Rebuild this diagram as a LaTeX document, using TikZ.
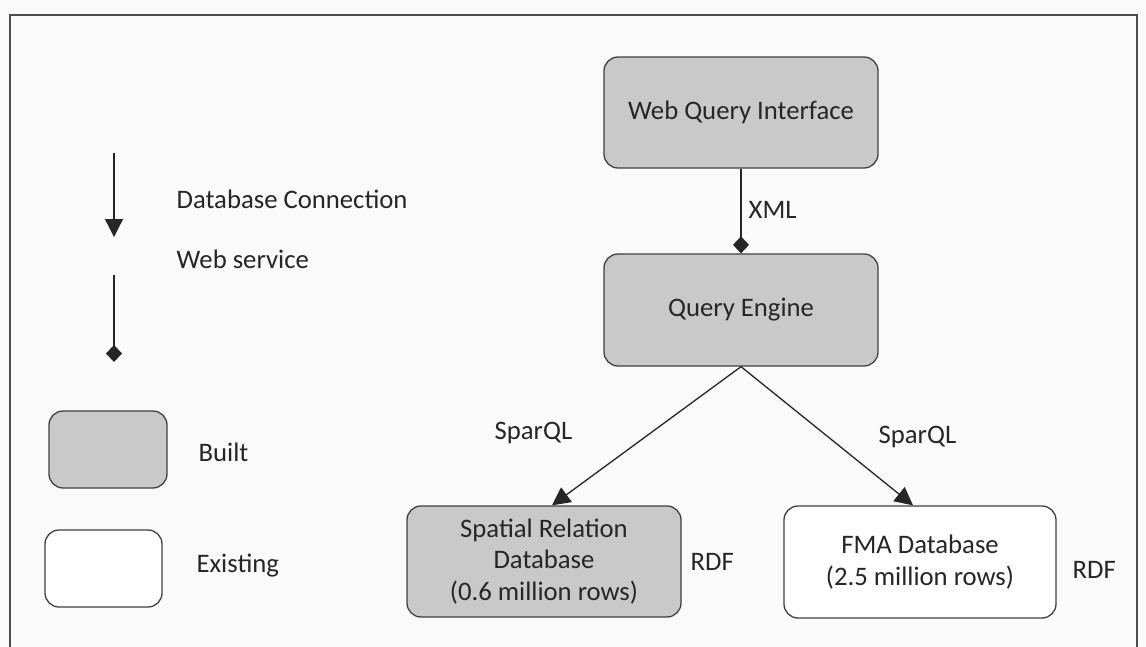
\documentclass[tikz,border=0pt]{standalone}
\usepackage{fontspec}
\setmainfont{Carlito}
\usetikzlibrary{arrows.meta,calc}
\begin{document}
\begin{tikzpicture}[x=1pt,y=-1pt,
  line width=1.3pt,
  every node/.style={font=\fontsize{26.7}{31.5}\selectfont, text=black!85},
  box/.style={draw=black!75, rounded corners=14pt, align=center, inner sep=0pt},
  built/.style={box, fill=black!21},
  existing/.style={box, fill=white},
  lbl/.style={anchor=west, inner sep=0pt},
  conn/.style={draw=black!85, -{Triangle[width=18pt,length=18pt]}},
  ws/.style={draw=black!85, -{Diamond[width=16pt,length=17pt]}}
]
\useasboundingbox (0,0) rectangle (1146,646);
\fill[white!98!black] (0,0) rectangle (1146,646);
\draw[black!70, line width=1.2pt] (10,660) -- (10,15) -- (1137,15) -- (1137,660);

% legend
\coordinate (a1s) at (114,153);
\coordinate (a1e) at (114,237);
\coordinate (a2s) at (114,275);
\coordinate (a2e) at (114,362);
\draw[conn] (a1s) -- (a1e);
\draw[ws] (a2s) -- (a2e);
\node[lbl] (ldb) at (176,199) {Database Connection};
\node[lbl] (lws) at (176,259) {Web service};
\node[built, minimum width=118pt, minimum height=77pt] (lb) at (108,449.5) {};
\node[existing, minimum width=117pt, minimum height=77pt] (le) at (103.5,568.5) {};
\node[lbl] (lbt) at (198,452) {Built};
\node[lbl] (let) at (196,566) {Existing};

% main
\node[built, minimum width=274pt, minimum height=111pt] (wqi) at (741,112.5) {Web Query Interface};
\node[built, minimum width=274pt, minimum height=112pt] (qe) at (741,310) {Query Engine};
\node[built, minimum width=274pt, minimum height=111pt] (sp) at (544,561.5) {Spatial Relation\\Database\\(0.6 million rows)};
\node[existing, minimum width=272pt, minimum height=112pt] (fma) at (920,562) {FMA Database\\(2.5 million rows)};

\draw[ws] (wqi.south) -- (qe.north);
\node[lbl] (xml) at (748,210) {XML};
\draw[conn] (qe.south) -- ([xshift=8pt]sp.north);
\draw[conn] (qe.south) -- ([xshift=-7pt]fma.north);
\node[lbl] (sq1) at (494,433) {SparQL};
\node[lbl] (sq2) at (878,437) {SparQL};
\node[lbl] (rdf1) at (690,562) {RDF};
\node[lbl] (rdf2) at (1072,570) {RDF};
\end{tikzpicture}
\end{document}
